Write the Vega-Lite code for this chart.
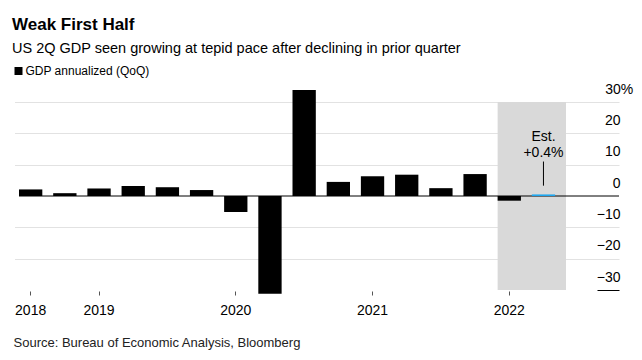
{
  "$schema": "https://vega.github.io/schema/vega-lite/v6.json",
  "width": 600,
  "height": 188,
  "autosize": "none",
  "padding": {"left": 19, "top": 102, "right": 23, "bottom": 70},
  "background": "white",
  "config": {
    "font": "Liberation Sans",
    "view": {"stroke": null},
    "scale": {"bandPaddingInner": 0.318, "bandPaddingOuter": 0}
  },
  "title": {
    "text": "Weak First Half",
    "subtitle": "US 2Q GDP seen growing at tepid pace after declining in prior quarter",
    "anchor": "start",
    "frame": "group",
    "dx": -7,
    "offset": 8.5,
    "fontSize": 17,
    "fontWeight": "bold",
    "color": "black",
    "subtitleFontSize": 14.5,
    "subtitleColor": "black",
    "subtitlePadding": 8.5
  },
  "datasets": {
    "gdp": [
      {"quarter": "2018 Q3", "value": 2.1, "series": "GDP annualized (QoQ)"},
      {"quarter": "2018 Q4", "value": 0.9, "series": "GDP annualized (QoQ)"},
      {"quarter": "2019 Q1", "value": 2.4, "series": "GDP annualized (QoQ)"},
      {"quarter": "2019 Q2", "value": 3.2, "series": "GDP annualized (QoQ)"},
      {"quarter": "2019 Q3", "value": 2.8, "series": "GDP annualized (QoQ)"},
      {"quarter": "2019 Q4", "value": 1.9, "series": "GDP annualized (QoQ)"},
      {"quarter": "2020 Q1", "value": -5.1, "series": "GDP annualized (QoQ)"},
      {"quarter": "2020 Q2", "value": -31.2, "series": "GDP annualized (QoQ)"},
      {"quarter": "2020 Q3", "value": 33.8, "series": "GDP annualized (QoQ)"},
      {"quarter": "2020 Q4", "value": 4.5, "series": "GDP annualized (QoQ)"},
      {"quarter": "2021 Q1", "value": 6.3, "series": "GDP annualized (QoQ)"},
      {"quarter": "2021 Q2", "value": 6.8, "series": "GDP annualized (QoQ)"},
      {"quarter": "2021 Q3", "value": 2.5, "series": "GDP annualized (QoQ)"},
      {"quarter": "2021 Q4", "value": 7.0, "series": "GDP annualized (QoQ)"},
      {"quarter": "2022 Q1", "value": -1.5, "series": "GDP annualized (QoQ)"},
      {"quarter": "2022 Q2", "value": 0.5, "series": "Estimate"}
    ]
  },
  "layer": [
    {
      "data": {"values": [{"quarter": "2022 Q1", "quarter_end": "2022 Q3"}]},
      "mark": {"type": "rect", "color": "#d9d9d9"},
      "encoding": {
        "x": {"field": "quarter", "type": "ordinal", "bandPosition": 0, "title": "Source: Bureau of Economic Analysis, Bloomberg",
          "scale": {"domain": ["2018 Q3","2018 Q4","2019 Q1","2019 Q2","2019 Q3","2019 Q4","2020 Q1","2020 Q2","2020 Q3","2020 Q4","2021 Q1","2021 Q2","2021 Q3","2021 Q4","2022 Q1","2022 Q2","2022 Q3","2022 Q4"], "range": [0, 604.5]},
          "axis": {
            "values": ["2018 Q3","2019 Q1","2020 Q1","2021 Q1","2022 Q1"],
            "bandPosition": 0.5,
            "labelExpr": "substring(datum.value, 0, 4)",
            "labelAngle": 0,
            "labelOverlap": false,
            "domain": false,
            "grid": false,
            "ticks": true,
            "tickSize": 4,
            "tickColor": "#555555",
            "offset": 1,
            "labelFontSize": 14,
            "labelColor": "black",
            "labelPadding": 8,
            "titleX": -6,
            "titleY": 51,
            "titleAnchor": "start",
            "titleAlign": "left",
            "titleBaseline": "middle",
            "titleFontSize": 13,
            "titleFontWeight": "normal",
            "titleColor": "#222222"
          }},
        "x2": {"field": "quarter_end", "bandPosition": 0},
        "y": {"datum": 30,
          "scale": {"domain": [-30, 30], "nice": false, "zero": true},
          "axis": {
            "title": null,
            "orient": "right",
            "values": [-30, -20, -10, 0, 10, 20, 30],
            "tickCount": 20,
            "domain": false,
            "grid": true,
            "gridColor": {"condition": {"test": "datum.value == -30 || datum.value == 0", "value": "transparent"}, "value": "#e2e2e2"},
            "gridWidth": 1.2,
            "ticks": true,
            "tickSize": -22,
            "tickColor": {"condition": {"test": "datum.value == -30", "value": "black"}, "value": "transparent"},
            "labelExpr": "datum.value == 30 ? '30%' : datum.label",
            "labelAlign": "right",
            "labelOverlap": false,
            "labelBound": false,
            "labelPadding": {"condition": {"test": "datum.value == 30", "value": 35.7}, "value": 23},
            "labelBaseline": "alphabetic",
            "labelOffset": -9,
            "labelFontSize": 14,
            "labelColor": "black"
          }},
        "y2": {"datum": -30}
      }
    },
    {
      "data": {"values": [{}]},
      "mark": {"type": "rule", "color": "black", "strokeWidth": 1},
      "encoding": {"y": {"datum": 0}}
    },
    {
      "data": {"name": "gdp"},
      "mark": {"type": "bar"},
      "encoding": {
        "x": {"field": "quarter", "type": "ordinal"},
        "y": {"field": "value", "type": "quantitative"},
        "color": {"field": "series", "type": "nominal",
          "scale": {"domain": ["GDP annualized (QoQ)", "Estimate"], "range": ["#000000", "#1ea7f0"]},
          "legend": {
            "values": ["GDP annualized (QoQ)"],
            "title": null,
            "orient": "none",
            "legendX": -6.5,
            "legendY": -37,
            "symbolType": "square",
            "symbolSize": 64,
            "symbolStrokeWidth": 0,
            "labelFontSize": 12,
            "labelColor": "black",
            "labelOffset": 1
          }
        }
      }
    },
    {
      "data": {"values": [{"quarter": "2022 Q2"}]},
      "mark": {"type": "rule", "color": "black", "strokeWidth": 1},
      "encoding": {
        "x": {"field": "quarter", "type": "ordinal"},
        "y": {"datum": 11},
        "y2": {"datum": 3.3}
      }
    },
    {
      "data": {"values": [{"quarter": "2022 Q2", "label": ["Est.", "+0.4%"]}]},
      "mark": {"type": "text", "fontSize": 14, "color": "black", "baseline": "middle", "align": "center", "lineHeight": 16},
      "encoding": {
        "x": {"field": "quarter", "type": "ordinal"},
        "y": {"datum": 18.9},
        "text": {"field": "label"}
      }
    }
  ]
}
